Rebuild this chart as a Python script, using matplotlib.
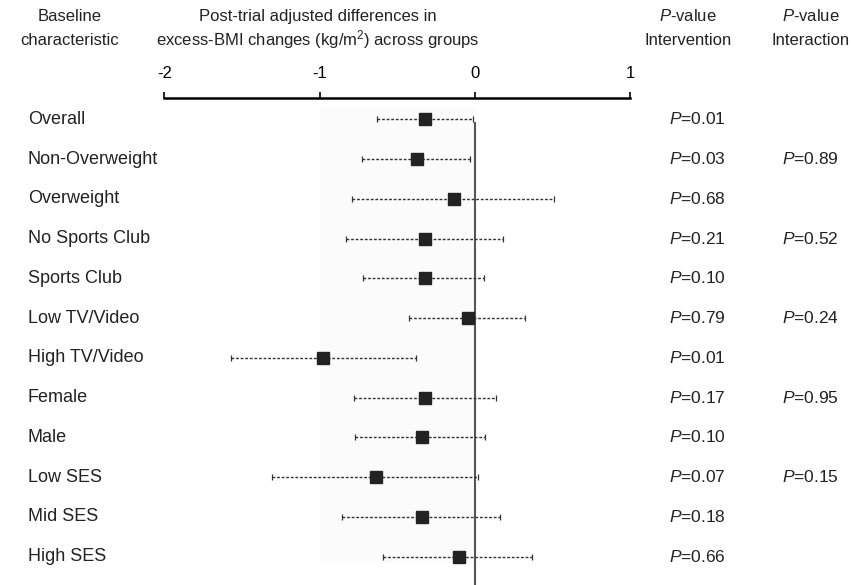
import matplotlib
matplotlib.use("Agg")
import matplotlib.pyplot as plt
import matplotlib.transforms as mtransforms

plt.rcParams['font.family'] = ['Liberation Sans', 'DejaVu Sans']
plt.rcParams['mathtext.fontset'] = 'custom'
plt.rcParams['mathtext.rm'] = 'Liberation Sans'
plt.rcParams['mathtext.it'] = 'Liberation Sans:italic'

# data
groups = ['Overall', 'Non-Overweight', 'Overweight', 'No Sports Club', 'Sports Club',
          'Low TV/Video', 'High TV/Video', 'Female', 'Male', 'Low SES', 'Mid SES', 'High SES']
estimate = [-0.32, -0.375, -0.133, -0.32, -0.32, -0.047, -0.977, -0.32, -0.343, -0.64, -0.343, -0.10]
ci_low = [-0.633, -0.73, -0.79, -0.83, -0.72, -0.425, -1.57, -0.78, -0.77, -1.305, -0.855, -0.59]
ci_high = [-0.01, -0.03, 0.51, 0.18, 0.06, 0.32, -0.38, 0.135, 0.064, 0.02, 0.16, 0.37]
p_intervention = ['0.01', '0.03', '0.68', '0.21', '0.10', '0.79', '0.01', '0.17', '0.10', '0.07', '0.18', '0.66']
p_interaction = ['', '0.89', '', '0.52', '', '0.24', '', '0.95', '', '0.15', '', '']
xticks = [-2, -1, 0, 1]

W, H = 854, 585
fig = plt.figure(figsize=(W / 100, H / 100), dpi=100)
ax = fig.add_axes([164.3 / W, 0, 466 / W, (H - 97.7) / H])

rows = list(range(len(groups)))
ax.set_xlim(-2, 1)
ax.set_ylim(11.71, -0.543)

# very light band between -1 and 0
ax.fill_betweenx([-0.284, 11.16], -1, 0, color='#fbfbfb', lw=0, zorder=0)
# reference line at zero
ax.vlines(0, 0.06, 11.71, color='#555555', lw=1.5, zorder=1)

xerr = [[e - l for e, l in zip(estimate, ci_low)], [h - e for e, h in zip(estimate, ci_high)]]
eb = ax.errorbar(estimate, rows, xerr=xerr, fmt='s', color='#222222', ms=8.5,
                 ecolor='#333333', elinewidth=1.0, capsize=2.5, capthick=0.9, zorder=3)
eb[2][0].set_linestyle((0, (2, 1.3)))

ax.xaxis.tick_top()
ax.set_xticks(xticks)
ax.set_xticklabels([str(t) for t in xticks])
ax.tick_params(axis='x', direction='out', length=4, width=1.2, labelsize=12, pad=8, colors='black')
ax.set_yticks([])
for s in ['left', 'right', 'bottom']:
    ax.spines[s].set_visible(False)
ax.spines['top'].set_linewidth(1.8)

tr = mtransforms.blended_transform_factory(fig.transFigure, ax.transData)
for i, g in enumerate(groups):
    fig.text(28 / W, i, g, transform=tr, fontsize=13, va='center', ha='left', color='#222222')
    fig.text(669 / W, i, '$P$=' + p_intervention[i], transform=tr, fontsize=12.5,
             va='center', ha='left', color='#222222')
    if p_interaction[i]:
        fig.text(782 / W, i, '$P$=' + p_interaction[i], transform=tr, fontsize=12.5,
                 va='center', ha='left', color='#222222')

# column headers, one text per line
hdr = dict(fontsize=12, ha='center', va='baseline', color='#222222')
headers = [
    (70, 'Baseline', 'characteristic'),
    (318, 'Post-trial adjusted differences in', 'excess-BMI changes (kg/m$^2$) across groups'),
    (688, '$P$-value', 'Intervention'),
    (811, '$P$-value', 'Interaction'),
]
for xc, line1, line2 in headers:
    fig.text(xc / W, 1 - 21 / H, line1, **hdr)
    fig.text(xc / W, 1 - 45 / H, line2, **hdr)

fig.savefig("out.png", dpi=100)
